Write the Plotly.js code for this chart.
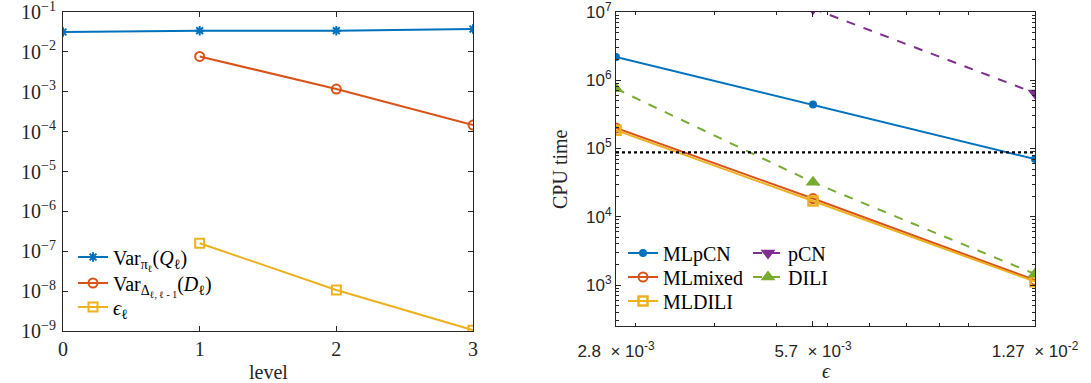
<!DOCTYPE html>
<html>
<head>
<meta charset="utf-8">
<script src="https://cdn.plot.ly/plotly-3.0.1.min.js"></script>
<style>html,body{margin:0;padding:0;background:#fff;}#chart{width:1091px;height:383px;}</style>
</head>
<body>
<div id="chart"></div>
<script>
// ---- Left panel data ----
const levels = [0, 1, 2, 3];
const levelsD = [1, 2, 3];
const varQ = [3.15e-2, 3.40e-2, 3.40e-2, 3.74e-2];
const varD = [7.69e-3, 1.17e-3, 1.46e-4];
const epsL = [1.59e-7, 1.07e-8, 1.05e-9];
const leftYTicks = [1e-9, 1e-8, 1e-7, 1e-6, 1e-5, 1e-4, 1e-3, 1e-2, 1e-1];
const leftYTickText = ['10<sup>\u22129</sup>','10<sup>\u22128</sup>','10<sup>\u22127</sup>','10<sup>\u22126</sup>','10<sup>\u22125</sup>','10<sup>\u22124</sup>','10<sup>\u22123</sup>','10<sup>\u22122</sup>','10<sup>\u22121</sup>'];

// ---- Right panel data ----
const epsVals = [2.8e-3, 5.7e-3, 1.27e-2];
const epsTickText = ['2.8  \u00d7 10<sup>-3</sup>', '5.7  \u00d7 10<sup>-3</sup>', '1.27  \u00d7 10<sup>-2</sup>'];
const mlpcn = [2.2e6, 4.4e5, 7.0e4];
const mlmixed = [2.0e5, 1.85e4, 1.18e3];
const mldili = [1.85e5, 1.7e4, 1.12e3];
const epsPcn = [5.7e-3, 1.27e-2];
const pcn = [1.12e7, 6.5e5];
const dili = [7.5e5, 3.2e4, 1.45e3];
const refTime = 8.8e4;
const rightYTicks = [1e3, 1e4, 1e5, 1e6, 1e7];
const rightYTickText = ['10<sup>3</sup>','10<sup>4</sup>','10<sup>5</sup>','10<sup>6</sup>','10<sup>7</sup>'];

const C = {blue:'#0072BD', red:'#D95319', yellow:'#EDB120', purple:'#7E2F8E', green:'#77AC30'};

// minor tick positions (log decades)
const yMinor = [];
for (let e = 2; e <= 6; e++) for (let m = 2; m <= 9; m++) yMinor.push(m * Math.pow(10, e));
const xMinor = [3e-3, 4e-3, 5e-3, 6e-3, 7e-3, 8e-3, 9e-3, 1e-2];

const traces = [
  {x: levels, y: varQ, xaxis:'x', yaxis:'y', mode:'lines+markers', name:'Var<sub>\u03c0<sub>\u2113</sub></sub>(<i>Q</i><sub>\u2113</sub>)',
   line:{color:C.blue, width:2}, marker:{symbol:'asterisk-open', size:8, line:{color:C.blue, width:2}}, legend:'legend'},
  {x: levelsD, y: varD, xaxis:'x', yaxis:'y', mode:'lines+markers', name:'Var<sub>\u0394<sub>\u2113, \u2113 - 1</sub></sub>(<i>D</i><sub>\u2113</sub>)',
   line:{color:C.red, width:2}, marker:{symbol:'circle-open', size:9, line:{color:C.red, width:2}}, legend:'legend2'},
  {x: levelsD, y: epsL, xaxis:'x', yaxis:'y', mode:'lines+markers', name:'<i>\u03f5</i><sub>\u2113</sub>',
   line:{color:C.yellow, width:2}, marker:{symbol:'square-open', size:9, line:{color:C.yellow, width:2}}, legend:'legend3'},

  {x: epsVals, y: mlpcn, xaxis:'x2', yaxis:'y2', mode:'lines+markers', name:'MLpCN',
   line:{color:C.blue, width:2}, marker:{symbol:'circle', size:8, color:C.blue}, legend:'legend4'},
  {x: epsVals, y: mlmixed, xaxis:'x2', yaxis:'y2', mode:'lines+markers', name:'MLmixed',
   line:{color:C.red, width:2}, marker:{symbol:'circle-open', size:9, line:{color:C.red, width:2}}, legend:'legend5'},
  {x: epsVals, y: mldili, xaxis:'x2', yaxis:'y2', mode:'lines+markers', name:'MLDILI',
   line:{color:C.yellow, width:2}, marker:{symbol:'square-open', size:9, line:{color:C.yellow, width:2.5}}, legend:'legend6'},
  {x: epsPcn, y: pcn, xaxis:'x2', yaxis:'y2', mode:'lines+markers', name:'pCN',
   line:{color:C.purple, width:2, dash:'dash'}, marker:{symbol:'triangle-down', size:13, color:C.purple}, legend:'legend7'},
  {x: epsVals, y: dili, xaxis:'x2', yaxis:'y2', mode:'lines+markers', name:'DILI',
   line:{color:C.green, width:2, dash:'dash'}, marker:{symbol:'triangle-up', size:13, color:C.green}, legend:'legend8'},
  {x: [epsVals[0], epsVals[epsVals.length-1]], y: [refTime, refTime], xaxis:'x2', yaxis:'y2', mode:'lines',
   line:{color:'#000', width:2.2, dash:'dot'}, showlegend:false, hoverinfo:'skip'}
];

const axCol = '#262626';
const serif = 'Liberation Serif, Times New Roman, serif';
const sans = 'Liberation Sans, Arial, sans-serif';
const baseAx = {showline:true, linecolor:axCol, linewidth:1, mirror:'ticks', ticks:'inside', ticklen:5,
  tickcolor:axCol, tickwidth:1, showgrid:false, zeroline:false, fixedrange:true, ticklabeloverflow:'allow'};

const W = 1091, H = 383;
const legFont = {family: serif, size: 20, color:'#000'};
function leg(xpx, ypx) {
  return {x: xpx / W, y: 1 - ypx / H, xanchor:'left', yanchor:'middle', bgcolor:'rgba(0,0,0,0)', font: legFont, borderwidth:0};
}
const layout = {
  width: W, height: H, margin:{l:0, r:0, t:0, b:0},
  paper_bgcolor:'#fff', plot_bgcolor:'#fff', showlegend:true,
  xaxis: Object.assign({}, baseAx, {domain:[63/W, 473/W], anchor:'y', range:[0, 3], tickvals:levels,
    ticktext: levels.map(String), tickfont:{family:serif, size:20, color:axCol}}),
  yaxis: Object.assign({}, baseAx, {domain:[1-331/H, 1-12/H], anchor:'x', type:'log', range:[-9, -1],
    tickvals:leftYTicks, ticktext:leftYTickText, tickfont:{family:serif, size:20, color:axCol}, ticklabelstandoff:2}),
  xaxis2: Object.assign({}, baseAx, {domain:[616/W, 1035/W], anchor:'y2', type:'log',
    range:[Math.log10(epsVals[0]), Math.log10(epsVals[2])], tickvals:epsVals, ticktext:epsTickText,
    tickfont:{family:sans, size:17, color:axCol}, ticklabelstandoff:10,
    minor:{tickvals:xMinor, ticks:'inside', ticklen:3, tickcolor:axCol}}),
  yaxis2: Object.assign({}, baseAx, {domain:[1-326/H, 1-12/H], anchor:'x2', type:'log', range:[2.4, 7],
    tickvals:rightYTicks, ticktext:rightYTickText, tickfont:{family:sans, size:17, color:axCol},
    minor:{tickvals:yMinor, ticks:'inside', ticklen:3, tickcolor:axCol}}),
  legend:  leg(73, 257),
  legend2: leg(73, 283),
  legend3: leg(73, 307),
  legend4: leg(623, 253),
  legend5: leg(623, 277),
  legend6: leg(623, 301),
  legend7: leg(748, 253),
  legend8: leg(748, 277),
  annotations: [
    {text:'level', xref:'paper', yref:'paper', x:268/W, y:1-372/H, xanchor:'center', yanchor:'middle', showarrow:false,
     font:{family:serif, size:20, color:axCol}},
    {text:'CPU time', xref:'paper', yref:'paper', x:560/W, y:1-169/H, xanchor:'center', yanchor:'middle', showarrow:false,
     textangle:-90, font:{family:serif, size:20, color:axCol}},
    {text:'<i>\u03f5</i>', xref:'paper', yref:'paper', x:826/W, y:1-371/H, xanchor:'center', yanchor:'middle', showarrow:false,
     font:{family:serif, size:20, color:axCol}}
  ]
};

Plotly.newPlot('chart', traces, layout, {displayModeBar:false, staticPlot:true});
</script>
</body>
</html>
